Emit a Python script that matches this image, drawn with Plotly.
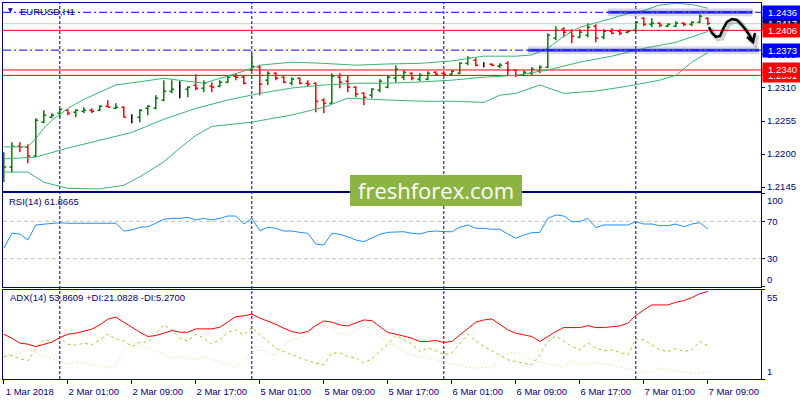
import plotly.graph_objects as go

# EURUSD H1, 1 Mar 17:00 .. 7 Mar 09:00 (one entry per hourly bar, bar index 0..88)
bar_idx = list(range(89))

open_ = [1.21650, 1.21783, 1.22132, 1.22115, 1.21966, 1.22531, 1.22614, 1.22681, 1.22730, 1.22697,
         1.22714, 1.22730, 1.22730, 1.22797, 1.22764, 1.22780, 1.22614, 1.22614, 1.22764, 1.22764,
         1.22897, 1.23047, 1.23080, 1.23080, 1.23146, 1.23096, 1.23130, 1.23130, 1.23196, 1.23296,
         1.23279, 1.23396, 1.23445, 1.23229, 1.23346, 1.23279, 1.23179, 1.23263, 1.23179, 1.23179,
         1.22897, 1.22847, 1.23279, 1.23213, 1.23113, 1.23013, 1.22980, 1.23063, 1.23113, 1.23263,
         1.23279, 1.23346, 1.23246, 1.23246, 1.23362, 1.23346, 1.23329, 1.23346, 1.23512, 1.23562,
         1.23496, 1.23496, 1.23462, 1.23512, 1.23396, 1.23312, 1.23346, 1.23379, 1.23445, 1.23928,
         1.24077, 1.24027, 1.23944, 1.23978, 1.24127, 1.23944, 1.24044, 1.24044, 1.24027, 1.24061,
         1.24260, 1.24160, 1.24177, 1.24127, 1.24127, 1.24177, 1.24160, 1.24194, 1.24260]
high = [1.22032, 1.22198, 1.22198, 1.22165, 1.22597, 1.22730, 1.22681, 1.22764, 1.22747, 1.22747,
        1.22780, 1.22764, 1.22814, 1.22897, 1.22847, 1.22797, 1.22664, 1.22747, 1.22814, 1.22980,
        1.23229, 1.23229, 1.23213, 1.23130, 1.23329, 1.23229, 1.23196, 1.23229, 1.23312, 1.23346,
        1.23312, 1.23678, 1.23479, 1.23379, 1.23362, 1.23296, 1.23279, 1.23279, 1.23229, 1.23196,
        1.22930, 1.23346, 1.23346, 1.23312, 1.23130, 1.23030, 1.23096, 1.23246, 1.23312, 1.23479,
        1.23396, 1.23362, 1.23346, 1.23379, 1.23379, 1.23362, 1.23396, 1.23529, 1.23628, 1.23595,
        1.23529, 1.23512, 1.23512, 1.23546, 1.23412, 1.23396, 1.23445, 1.23479, 1.24011, 1.24127,
        1.24111, 1.24077, 1.24077, 1.24177, 1.24160, 1.24077, 1.24094, 1.24077, 1.24061, 1.24210,
        1.24277, 1.24260, 1.24194, 1.24177, 1.24210, 1.24194, 1.24210, 1.24327, 1.24277]
low = [1.21533, 1.21699, 1.22032, 1.21849, 1.21949, 1.22514, 1.22597, 1.22614, 1.22647, 1.22614,
       1.22681, 1.22681, 1.22714, 1.22780, 1.22747, 1.22614, 1.22514, 1.22531, 1.22647, 1.22747,
       1.22880, 1.23013, 1.22930, 1.22947, 1.23063, 1.23030, 1.23030, 1.23113, 1.23179, 1.23229,
       1.23163, 1.23379, 1.22980, 1.23146, 1.23229, 1.23179, 1.23146, 1.23163, 1.23130, 1.22697,
       1.22681, 1.22830, 1.23096, 1.23030, 1.22947, 1.22814, 1.22930, 1.23030, 1.23096, 1.23196,
       1.23229, 1.23229, 1.23213, 1.23229, 1.23312, 1.23312, 1.23312, 1.23329, 1.23479, 1.23462,
       1.23445, 1.23462, 1.23429, 1.23312, 1.23279, 1.23296, 1.23312, 1.23346, 1.23429, 1.23894,
       1.23944, 1.23845, 1.23928, 1.23944, 1.23861, 1.23911, 1.23994, 1.23978, 1.24011, 1.24027,
       1.24127, 1.24111, 1.24111, 1.24111, 1.24111, 1.24127, 1.24127, 1.24177, 1.24144]
close = [1.21783, 1.22132, 1.22115, 1.21966, 1.22564, 1.22647, 1.22647, 1.22747, 1.22681, 1.22730,
         1.22730, 1.22714, 1.22797, 1.22780, 1.22780, 1.22614, 1.22614, 1.22730, 1.22797, 1.22930,
         1.23047, 1.23080, 1.23080, 1.23113, 1.23096, 1.23179, 1.23113, 1.23196, 1.23279, 1.23279,
         1.23179, 1.23462, 1.23163, 1.23346, 1.23263, 1.23196, 1.23246, 1.23179, 1.23163, 1.22880,
         1.22847, 1.23296, 1.23196, 1.23113, 1.22997, 1.22947, 1.23080, 1.23213, 1.23279, 1.23412,
         1.23362, 1.23263, 1.23312, 1.23346, 1.23329, 1.23329, 1.23379, 1.23512, 1.23595, 1.23479,
         1.23496, 1.23479, 1.23479, 1.23396, 1.23312, 1.23362, 1.23412, 1.23445, 1.23978, 1.24061,
         1.24027, 1.23961, 1.24027, 1.24111, 1.23928, 1.24044, 1.24011, 1.24011, 1.24044, 1.24194,
         1.24160, 1.24177, 1.24144, 1.24160, 1.24177, 1.24160, 1.24194, 1.24293, 1.24177]

# Bollinger bands, read at sample bars
bb_up_idx = [0, 3, 4, 5, 6, 8, 10, 14, 20, 22, 25, 28, 30, 32, 36, 40, 44, 48, 52, 56, 60, 64,
             66, 68, 70, 72, 74, 76, 78, 80, 82, 84, 86, 88]
bb_upper = [1.2212, 1.2212, 1.2226, 1.2243, 1.2256, 1.2276, 1.2291, 1.2315, 1.2326, 1.2323, 1.2318,
            1.2330, 1.2338, 1.2348, 1.2353, 1.2351, 1.2348, 1.2350, 1.2351, 1.2355, 1.2363, 1.2363,
            1.2365, 1.2376, 1.2396, 1.2411, 1.2418, 1.2426, 1.2434, 1.2439, 1.2448, 1.2451, 1.2449, 1.2443]
bb_mid_idx = [0, 4, 8, 12, 16, 20, 24, 28, 32, 36, 40, 44, 48, 52, 56, 60, 64, 68, 70, 72, 76, 80, 84, 88]
bb_middle = [1.2192, 1.2195, 1.2210, 1.2223, 1.2236, 1.2258, 1.2276, 1.2290, 1.2301, 1.2310, 1.2315,
             1.2318, 1.2318, 1.2320, 1.2323, 1.2328, 1.2331, 1.2340, 1.2346, 1.2353, 1.2363, 1.2376,
             1.2386, 1.2404]
bb_low_idx = [0, 3, 5, 8, 12, 15, 17, 20, 22, 24, 26, 29, 31, 33, 36, 40, 43, 48, 52, 56, 60, 62,
              64, 67, 70, 74, 78, 82, 84, 86, 88]
bb_lower = [1.2170, 1.2170, 1.2153, 1.2143, 1.2142, 1.2148, 1.2162, 1.2187, 1.2210, 1.2231, 1.2246,
            1.2250, 1.2253, 1.2258, 1.2265, 1.2278, 1.2293, 1.2290, 1.2288, 1.2288, 1.2286, 1.2298,
            1.2301, 1.2315, 1.2301, 1.2305, 1.2313, 1.2323, 1.2331, 1.2353, 1.2369]

rsi = [41.1, 57.2, 56.4, 50.0, 66.1, 67.1, 67.9, 68.5, 67.9, 67.9,
       68.5, 68.5, 68.5, 67.9, 67.9, 59.6, 60.7, 63.6, 64.2, 67.9,
       72.2, 73.2, 73.2, 74.3, 71.4, 73.2, 71.4, 73.2, 75.7, 75.7,
       67.1, 73.2, 60.0, 63.6, 62.5, 59.6, 59.6, 58.2, 57.2, 45.7,
       44.6, 57.2, 56.1, 53.5, 50.0, 48.2, 51.8, 56.1, 58.2, 58.9,
       58.9, 57.2, 56.4, 58.9, 59.6, 58.9, 58.9, 63.6, 66.1, 62.5,
       62.5, 61.5, 61.5, 56.4, 51.8, 55.4, 57.8, 58.2, 73.2, 76.8,
       75.7, 69.6, 69.6, 73.2, 63.2, 66.1, 66.1, 65.3, 66.1, 69.6,
       67.1, 67.1, 65.3, 65.3, 67.1, 64.2, 67.1, 68.5, 61.9]

adx = [28.1, 25.7, 22.7, 22.1, 20.6, 22.1, 23.3, 26.1, 28.1, 28.7,
       29.7, 31.1, 33.7, 37.2, 38.4, 35.4, 32.1, 29.3, 26.7, 27.3,
       28.7, 30.3, 29.3, 29.3, 31.3, 31.3, 31.3, 32.3, 35.4, 38.7,
       39.2, 40.2, 37.8, 36.1, 34.1, 31.7, 29.7, 28.7, 29.7, 33.3,
       36.1, 35.4, 33.7, 33.1, 34.8, 36.7, 36.3, 32.7, 29.1, 28.1,
       26.7, 25.7, 23.7, 23.7, 24.3, 23.1, 23.7, 27.7, 31.7, 35.4,
       36.7, 37.3, 34.1, 30.7, 28.7, 27.7, 26.7, 23.7, 26.7, 29.7,
       32.1, 32.1, 32.1, 33.3, 32.1, 32.1, 32.7, 33.1, 34.8, 39.3,
       42.8, 45.8, 45.8, 45.8, 47.4, 48.4, 50.2, 52.6, 53.9]
plus_di = [14.6, 15.2, 13.2, 12.0, 19.3, 24.7, 23.7, 25.7, 22.1, 21.3,
           22.7, 21.7, 24.7, 28.1, 25.3, 24.1, 20.6, 23.3, 23.3, 28.7,
           33.7, 30.7, 25.7, 24.1, 28.1, 25.7, 22.1, 24.7, 29.3, 30.7,
           27.7, 32.1, 28.1, 24.1, 19.7, 17.6, 15.6, 14.0, 12.0, 10.6,
           9.6, 16.7, 16.7, 14.6, 13.7, 10.6, 13.2, 17.6, 22.1, 27.3,
           24.7, 22.1, 17.6, 19.7, 18.1, 15.6, 16.7, 22.7, 28.1, 24.1,
           20.6, 18.1, 15.2, 12.6, 11.6, 10.6, 9.6, 15.6, 23.7, 27.1,
           24.1, 20.6, 18.6, 22.7, 19.7, 18.1, 18.6, 17.0, 15.6, 25.3,
           24.7, 21.7, 18.6, 17.6, 19.3, 17.6, 18.6, 23.7, 21.1]
minus_di = [16.7, 15.6, 16.7, 18.6, 16.7, 14.6, 13.2, 11.6, 10.0, 11.6,
            10.6, 9.6, 8.6, 7.6, 9.6, 18.6, 23.7, 21.7, 19.7, 17.6,
            16.1, 13.7, 14.6, 13.7, 12.6, 14.6, 12.6, 11.6, 10.0, 8.0,
            11.6, 17.6, 18.6, 16.7, 15.2, 21.7, 24.7, 25.7, 28.7, 34.1,
            32.7, 31.7, 28.7, 27.7, 30.7, 32.7, 31.7, 26.7, 22.7, 20.6,
            17.6, 15.6, 14.6, 13.7, 12.6, 11.2, 10.0, 9.6, 8.0, 7.6,
            8.0, 7.6, 14.6, 16.7, 17.0, 15.6, 12.6, 11.2, 10.0, 9.2,
            8.6, 12.0, 10.0, 9.6, 11.2, 10.0, 9.6, 8.6, 7.2, 6.0,
            5.2, 5.2, 7.6, 6.6, 6.0, 5.6, 4.6, 4.6, 5.3]

tick_idx = [0, 8, 16, 24, 32, 40, 48, 56, 64, 72, 80, 88]
tick_text = ['1 Mar 2018', '2 Mar 01:00', '2 Mar 09:00', '2 Mar 17:00', '5 Mar 01:00', '5 Mar 09:00',
             '5 Mar 17:00', '6 Mar 01:00', '6 Mar 09:00', '6 Mar 17:00', '7 Mar 01:00', '7 Mar 09:00']
day_start_idx = [7, 31, 55, 79]

price_ticks = [1.2145, 1.2200, 1.2255, 1.2310, 1.2365, 1.2420]
red_levels = [1.2406, 1.2340, 1.2331]
blue_levels = [1.2436, 1.2373]
bid_level = 1.2417
zone_levels = [1.2436, 1.2373]
zone_from = [75.5, 65.5]
zone_to = [93.6, 94.4]

# ---- geometry / style ----
W, H = 800, 400
L, R, T, B = 3, 761, 3, 379
NAVY = '#000080'
FONT = 'Liberation Sans, Arial, sans-serif'
XR = [-0.1, 94.65]


def px(x, y):
    # pixel position -> paper fraction
    return (x - L) / (R - L), (B - y) / (B - T)


fig = go.Figure()

moving = [i for i in bar_idx if open_[i] != close[i]]
flat = [i for i in bar_idx if open_[i] == close[i]]

fig.add_trace(go.Ohlc(
    x=moving, open=[open_[i] for i in moving], high=[high[i] for i in moving],
    low=[low[i] for i in moving], close=[close[i] for i in moving],
    increasing=dict(line=dict(color='#008000', width=1.5)),
    decreasing=dict(line=dict(color='#FF0000', width=1.5)),
    tickwidth=0.3, xaxis='x', yaxis='y', hoverinfo='skip'))

gap = min(b - a for a, b in zip(flat, flat[1:])) if len(flat) > 1 else 1
fig.add_trace(go.Ohlc(
    x=flat, open=[open_[i] for i in flat], high=[high[i] for i in flat],
    low=[low[i] for i in flat], close=[close[i] for i in flat],
    increasing=dict(line=dict(color='black', width=1.5)),
    decreasing=dict(line=dict(color='black', width=1.5)),
    tickwidth=0.3 / gap, xaxis='x', yaxis='y', hoverinfo='skip'))

for xs, ys in [(bb_up_idx, bb_upper), (bb_mid_idx, bb_middle), (bb_low_idx, bb_lower)]:
    fig.add_trace(go.Scatter(x=xs, y=ys, mode='lines', line=dict(color='#3CB371', width=1),
                             xaxis='x', yaxis='y', hoverinfo='skip'))

fig.add_trace(go.Scatter(x=bar_idx, y=rsi, mode='lines', line=dict(color='#1E90FF', width=1),
                         xaxis='x2', yaxis='y2', hoverinfo='skip'))

fig.add_trace(go.Scatter(x=bar_idx, y=minus_di, mode='lines',
                         line=dict(color='#F5DEB3', width=1, dash='2px,2px'),
                         xaxis='x3', yaxis='y3', hoverinfo='skip'))
fig.add_trace(go.Scatter(x=bar_idx, y=plus_di, mode='lines',
                         line=dict(color='#9ACD32', width=1, dash='3px,3px'),
                         xaxis='x3', yaxis='y3', hoverinfo='skip'))
fig.add_trace(go.Scatter(x=bar_idx, y=adx, mode='lines', line=dict(color='#FF0000', width=1),
                         xaxis='x3', yaxis='y3', hoverinfo='skip'))

shapes = []
# horizontal levels
shapes.append(dict(type='line', xref='x domain', yref='y', x0=0, x1=1, y0=bid_level, y1=bid_level,
                   line=dict(color='#C8C8C8', width=1), layer='below'))
for lv in red_levels:
    shapes.append(dict(type='line', xref='x domain', yref='y', x0=0, x1=1, y0=lv, y1=lv,
                       line=dict(color='#FF0000', width=1), layer='below'))
for lv, a, b in zip(zone_levels, zone_from, zone_to):
    shapes.append(dict(type='line', xref='x', yref='y', x0=a, x1=b, y0=lv, y1=lv,
                       line=dict(color='rgba(110,110,150,0.25)', width=8)))
    shapes.append(dict(type='line', xref='x', yref='y', x0=a, x1=b, y0=lv, y1=lv,
                       line=dict(color='rgba(20,20,220,0.75)', width=3)))
for lv in blue_levels:
    shapes.append(dict(type='line', xref='x domain', yref='y', x0=0, x1=1, y0=lv, y1=lv,
                       line=dict(color='#0000FF', width=1, dash='8px,3px,2px,3px')))
# RSI levels
for lv in [30, 70]:
    shapes.append(dict(type='line', xref='x2 domain', yref='y2', x0=0, x1=1, y0=lv, y1=lv,
                       line=dict(color='#C0C0C0', width=1, dash='4px,3px'), layer='below'))
# day separators
for d in day_start_idx:
    shapes.append(dict(type='line', xref='x', yref='paper', x0=d, x1=d, y0=0, y1=1,
                       line=dict(color=NAVY, width=1, dash='3px,2px'), layer='below'))

# watermark box
wx0, wy0 = px(350, 175)
wx1, wy1 = px(522, 206)
shapes.append(dict(type='rect', xref='paper', yref='paper', x0=wx0, y0=wy1, x1=wx1, y1=wy0,
                   fillcolor='#8CB443', line=dict(width=0), layer='above'))

# hand-drawn arrow
arrow_pts = [(709, 27), (712, 33), (716, 37), (720, 36), (723, 29), (727, 22), (732, 19),
             (737, 20), (741, 24), (746, 30), (750, 36), (753, 42)]
for dx, dy, col, w in [(2, 2, 'rgba(0,0,0,0.18)', 5), (0, 0, 'black', 2.5)]:
    pts = [px(x + dx, y + dy) for x, y in arrow_pts]
    path = 'M ' + ' L '.join(f'{a:.4f},{b:.4f}' for a, b in pts)
    head = [px(747 + dx, 37 + dy), px(753 + dx, 42 + dy), px(755 + dx, 33 + dy)]
    path += ' M ' + ' L '.join(f'{a:.4f},{b:.4f}' for a, b in head)
    shapes.append(dict(type='path', xref='paper', yref='paper', path=path,
                       line=dict(color=col, width=w), layer='above'))

annotations = []
# right-hand price boxes (later ones sit on top)
boxes = [(bid_level, NAVY), (blue_levels[0], '#0000FF'), (red_levels[0], '#FF0000'),
         (blue_levels[1], '#0000FF'), (red_levels[2], '#FF0000'), (red_levels[1], '#FF0000')]
for lv, col in boxes:
    annotations.append(dict(xref='paper', yref='y', x=1, y=lv, xanchor='left', yanchor='middle',
                            xshift=1, text=f'{lv:.4f}', showarrow=False, bgcolor=col,
                            width=37, height=11, borderpad=1, align='center',
                            font=dict(family=FONT, size=9.5, color='white')))

# indicator scale edge labels
for yref, val, anchor in [('y2', 100, 'top'), ('y2', 0, 'bottom'), ('y3', 55, 'top'), ('y3', 1, 'bottom')]:
    annotations.append(dict(xref='paper', yref=yref, x=1, y=val, xanchor='left', yanchor=anchor,
                            xshift=4, text=str(val), showarrow=False,
                            font=dict(family=FONT, size=9.5, color=NAVY)))

# panel titles
for text, (x, y) in [('EURUSD,H1', (18, 11)), ('RSI(14) 61.8665', (7, 201)),
                     ('ADX(14) 53.8609 +DI:21.0828 -DI:5.2700', (8, 297))]:
    ax, ay = px(x, y)
    annotations.append(dict(xref='paper', yref='paper', x=ax, y=ay, xanchor='left', yanchor='middle',
                            text=text, showarrow=False,
                            font=dict(family=FONT, size=9.5, color=NAVY)))
tx, ty = px(10, 10)
annotations.append(dict(xref='paper', yref='paper', x=tx, y=ty, xanchor='center', yanchor='middle',
                        text='▼', showarrow=False, font=dict(family='DejaVu Sans', size=6, color=NAVY)))

cx, cy = px(436, 190)
annotations.append(dict(xref='paper', yref='paper', x=cx, y=cy, xanchor='center', yanchor='middle',
                        text='freshforex.com', showarrow=False,
                        font=dict(family='Open Sans', size=22, color='white')))

axis_font = dict(family=FONT, size=9.5, color=NAVY)
frame = dict(showgrid=False, zeroline=False, showline=True, mirror=True, linecolor=NAVY,
             linewidth=1, fixedrange=True)

_, main_bot = px(0, 190.7)
_, rsi_top = px(0, 193.3)
_, rsi_bot = px(0, 286.7)
_, adx_top = px(0, 289.7)

fig.update_layout(
    width=W, height=H, margin=dict(l=L, r=W - R, t=T, b=H - B),
    paper_bgcolor='white', plot_bgcolor='white', showlegend=False,
    xaxis=dict(**frame, range=XR, anchor='y', showticklabels=False, ticks='',
               rangeslider=dict(visible=False)),
    xaxis2=dict(**frame, range=XR, anchor='y2', showticklabels=False, ticks=''),
    xaxis3=dict(**frame, range=XR, anchor='y3', tickvals=tick_idx, ticktext=tick_text,
                ticks='outside', ticklen=4, tickcolor=NAVY, tickfont=axis_font, ticklabelshift=26),
    yaxis=dict(**frame, domain=[main_bot, 1], range=[1.2139, 1.24515], side='right',
               tickvals=price_ticks, tickformat='.4f', ticks='outside', ticklen=3,
               tickcolor=NAVY, tickfont=axis_font),
    yaxis2=dict(**frame, domain=[rsi_bot, rsi_top], range=[0, 100], side='right',
                tickvals=[0, 30, 70, 100], ticktext=['', '30', '70', ''], ticks='outside',
                ticklen=3, tickcolor=NAVY, tickfont=axis_font),
    yaxis3=dict(**frame, domain=[0, adx_top], range=[1, 55], side='right',
                tickvals=[1, 55], ticktext=['', ''], ticks='outside', ticklen=3,
                tickcolor=NAVY, tickfont=axis_font),
    shapes=shapes, annotations=annotations,
)

# page margin off so the 800x400 figure fills the window
fig.write_html("out.html", config={'displayModeBar': False},
               post_script="document.body.style.margin='0';document.body.style.overflow='hidden';")
